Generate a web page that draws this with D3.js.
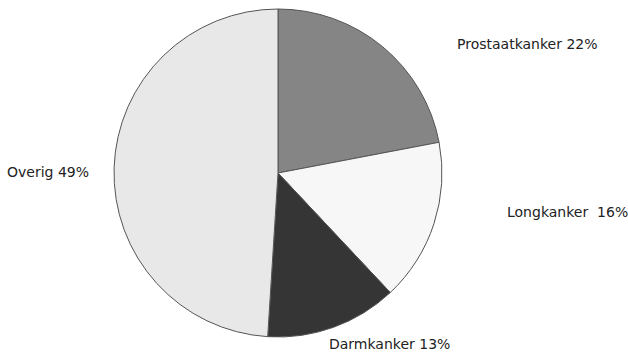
<!DOCTYPE html>
<html lang="nl">
<head>
<meta charset="UTF-8">
<title>kanker pie</title>
<script src="https://cdn.jsdelivr.net/npm/d3@7"></script>
<style>
    body{ margin:0; background:#fff; }
    .lbl{ font-family:"DejaVu Sans", sans-serif; font-size:14px; fill:#222; }
</style>
</head>
<body>
<svg id="chart" width="628" height="356"></svg>
<script>
    // data
    let categories = ["Prostaatkanker", "Longkanker", "Darmkanker", "Overig"];
    let percents = [22, 16, 13, 49];
    let labels = ["Prostaatkanker 22%", "Longkanker\u00a0\u00a016%", "Darmkanker 13%", "Overig 49%"];
    let fills = ["#858585", "#f7f7f7", "#353535", "#e8e8e8"];

    // layout
    let cx = 278, cy = 173, r = 164;
    // label anchor points (start of text, baseline)
    let labelPos = [[457, 49], [507, 217], [329, 349], [7, 177]];

    let svg = d3.select("#chart");
    let g = svg.append("g").attr("transform", "translate(" + cx + "," + cy + ")");

    let pie = d3.pie().sort(null).value(d => d);
    let arc = d3.arc().innerRadius(0).outerRadius(r);

    g.selectAll("path")
        .data(pie(percents))
        .enter()
        .append("path")
        .attr("d", arc)
        .attr("fill", (d, i) => fills[i])
        .attr("stroke", "#555")
        .attr("stroke-width", 1);

    svg.selectAll("text.lbl")
        .data(labels)
        .enter()
        .append("text")
        .attr("class", "lbl")
        .attr("x", (d, i) => labelPos[i][0])
        .attr("y", (d, i) => labelPos[i][1])
        .text(d => d);
</script>
</body>
</html>
